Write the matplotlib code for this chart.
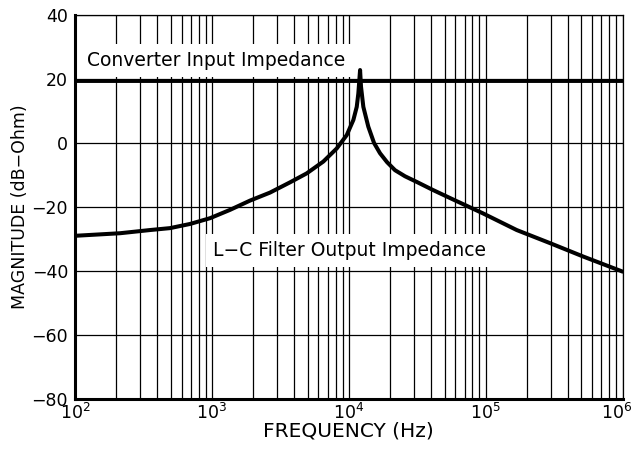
import matplotlib
matplotlib.use("Agg")
import matplotlib.pyplot as plt
from matplotlib.ticker import LogLocator, FixedLocator
from matplotlib.transforms import ScaledTranslation

plt.rcParams['font.family'] = ['DejaVu Sans']

# L-C filter output impedance
freq_hz = [100, 213, 353, 494, 692, 968, 1355, 1897, 2655, 3716, 4920, 6510,
           8160, 9660, 10790, 11420, 11730, 11930, 12080, 12270, 12760, 13870,
           15280, 16890, 19020, 21740, 25720, 31450, 41210, 54830, 95500,
           168300, 295000, 516600, 1000000]
filter_db = [-29.0, -28.2, -27.2, -26.6, -25.3, -23.5, -20.9, -18.0, -15.5,
             -12.3, -9.5, -5.8, -1.7, 2.5, 7.2, 11.3, 15.5, 19.7, 22.8, 17.6,
             11.3, 5.1, 0.0, -3.2, -6.0, -8.5, -10.4, -12.2, -14.7, -17.2,
             -22.0, -27.2, -31.3, -35.5, -40.2]

# converter input impedance, flat across the band
converter_db = 19.5

decades = [1e2, 1e3, 1e4, 1e5, 1e6]
magnitude_ticks = [-80, -60, -40, -20, 0, 20, 40]

fig = plt.figure(figsize=(6.31, 4.57), dpi=100)
ax = fig.add_axes([0.1189, 0.1269, 0.8679, 0.8403])

ax.set_xscale('log')
ax.set_xlim(1e2, 1e6)
ax.set_ylim(-80, 40)
ax.yaxis.set_major_locator(FixedLocator(magnitude_ticks))
ax.xaxis.set_major_locator(FixedLocator(decades))
ax.xaxis.set_minor_locator(LogLocator(base=10, subs=range(2, 10), numticks=50))

ax.grid(True, which='both', axis='x', color='black', linewidth=0.9)
ax.grid(True, which='major', axis='y', color='black', linewidth=0.9)
ax.set_axisbelow(True)

ax.tick_params(which='both', length=0, labelsize=12.5, colors='black')
ax.tick_params(axis='y', pad=5)
ax.tick_params(axis='x', pad=3)

for side in ['left', 'bottom']:
    ax.spines[side].set_linewidth(2.2)
for side in ['top', 'right']:
    ax.spines[side].set_linewidth(0.9)

ax.plot(freq_hz, filter_db, color='black', linewidth=2.9, zorder=4,
        solid_joinstyle='round', solid_capstyle='round')
ax.axhline(converter_db, color='black', linewidth=2.8, zorder=4)

box = dict(facecolor='white', edgecolor='none', pad=5)
ax.text(122, 24.1, 'Converter Input Impedance', fontsize=13.5,
        va='baseline', ha='left', bbox=box, zorder=3)
ax.text(1019, -35.2, 'L\u2212C Filter Output Impedance', fontsize=13.5,
        va='baseline', ha='left', bbox=box, zorder=3)

ax.set_xlabel('FREQUENCY (Hz)', fontsize=14.5, labelpad=-1)
ax.set_ylabel('MAGNITUDE (dB\u2212Ohm)', fontsize=12.5, labelpad=2)

# keep the last decade label inside the figure
fig.canvas.draw()
last = ax.xaxis.get_major_ticks()[len(decades) - 1].label1
last.set_horizontalalignment('right')
last.set_transform(last.get_transform() +
                   ScaledTranslation(7 / 72, 0, fig.dpi_scale_trans))

fig.savefig('out.png', dpi=100)
